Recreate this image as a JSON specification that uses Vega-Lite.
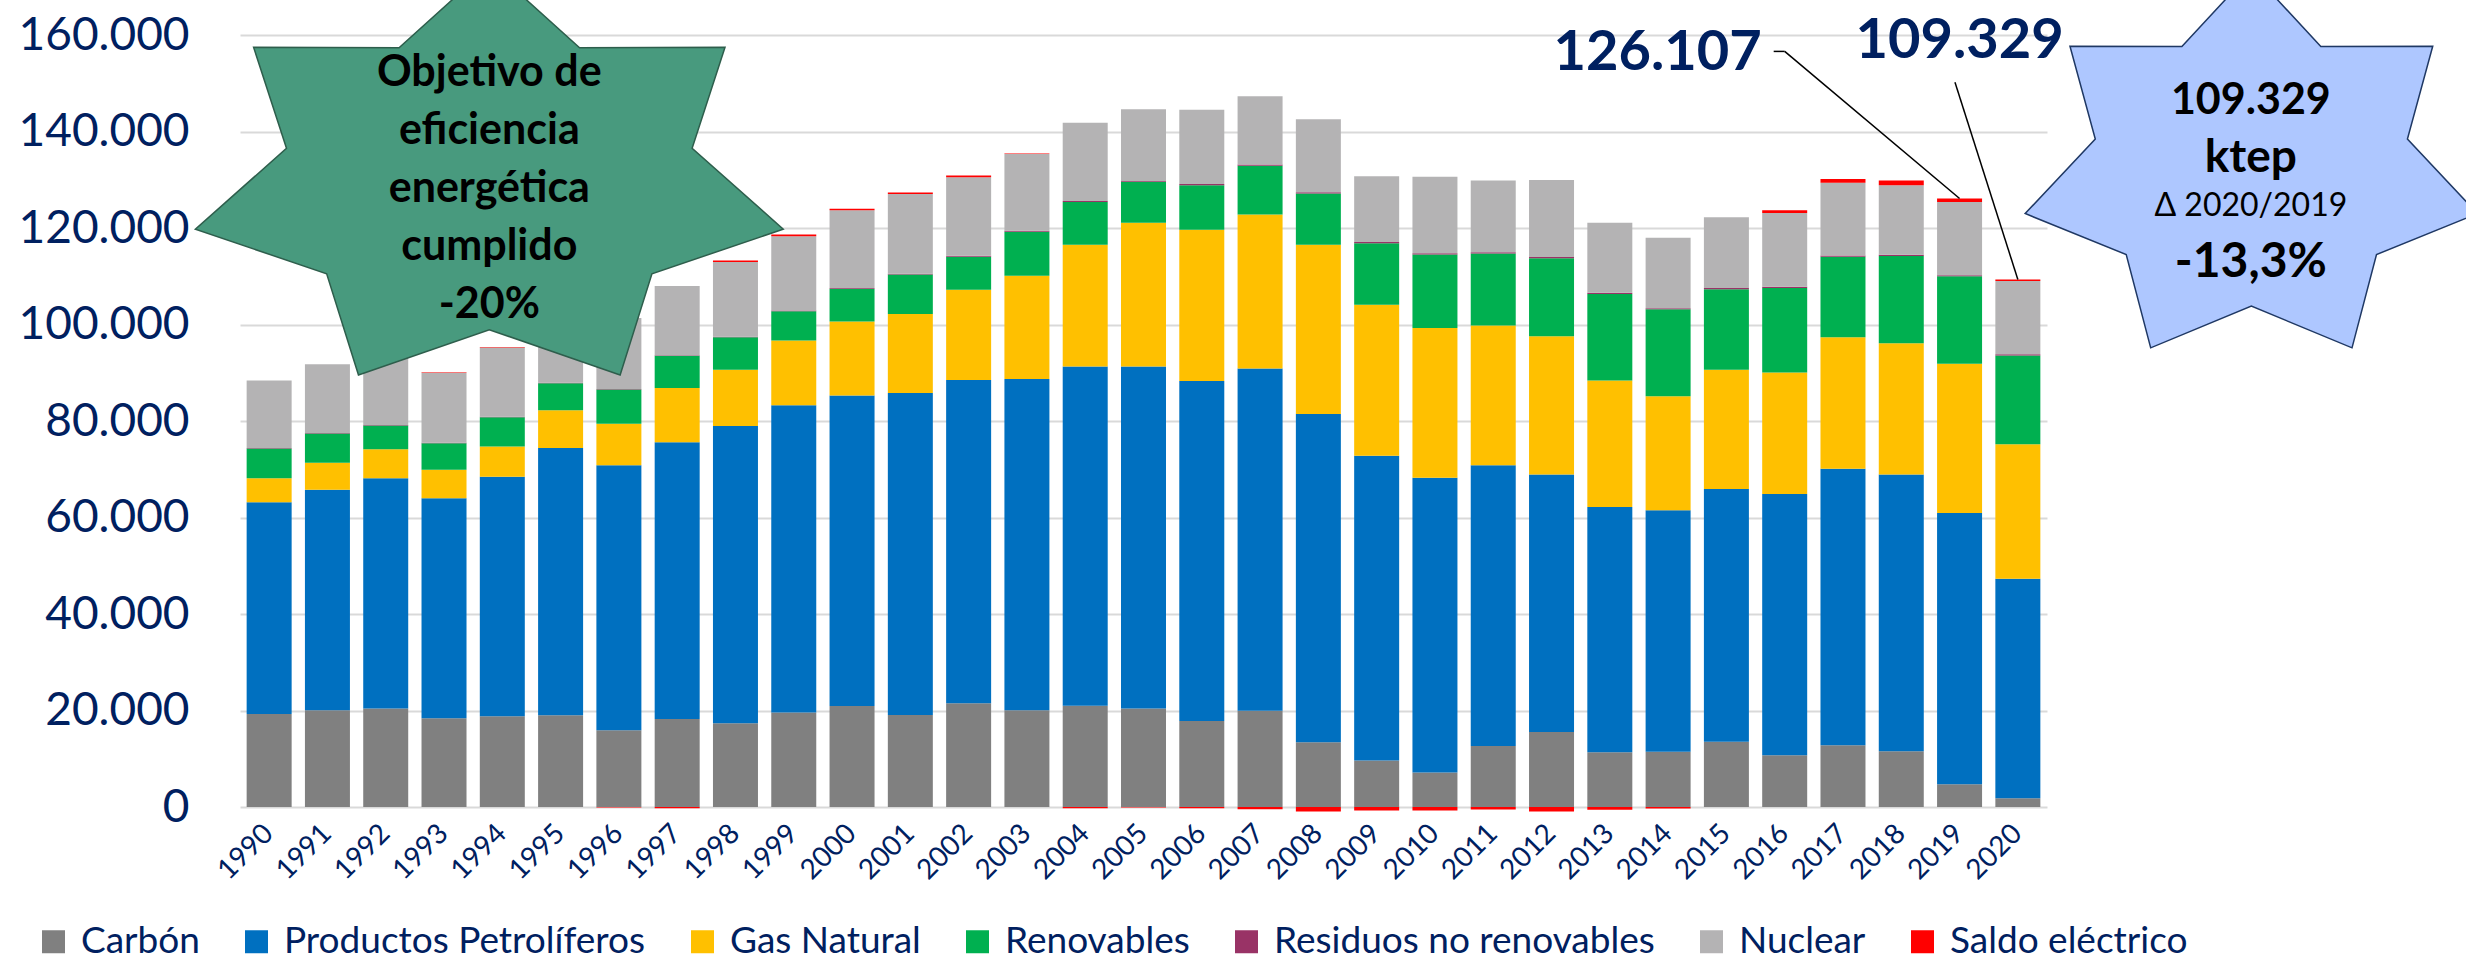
{
  "$schema": "https://vega.github.io/schema/vega-lite/v6.json",
  "width": 1807,
  "height": 772,
  "autosize": {"type": "none"},
  "padding": {"left": 240, "top": 35, "right": 419, "bottom": 154},
  "background": "white",
  "config": {
    "view": {"stroke": null},
    "font": "Lato",
    "locale": {"number": {"decimal": ",", "thousands": ".", "grouping": [3], "currency": ["", " €"]}}
  },
  "datasets": {
    "energia": [
      {"año": "1990", "Carbón": 19280, "Productos Petrolíferos": 43860, "Gas Natural": 5010, "Renovables": 6170, "Residuos no renovables": 100, "Nuclear": 13970, "Saldo eléctrico": 0},
      {"año": "1991", "Carbón": 20050, "Productos Petrolíferos": 45690, "Gas Natural": 5590, "Renovables": 6070, "Residuos no renovables": 100, "Nuclear": 14260, "Saldo eléctrico": 0},
      {"año": "1992", "Carbón": 20440, "Productos Petrolíferos": 47710, "Gas Natural": 5980, "Renovables": 4920, "Residuos no renovables": 100, "Nuclear": 14500, "Saldo eléctrico": 0},
      {"año": "1993", "Carbón": 18410, "Productos Petrolíferos": 45590, "Gas Natural": 5880, "Renovables": 5490, "Residuos no renovables": 100, "Nuclear": 14550, "Saldo eléctrico": 100},
      {"año": "1994", "Carbón": 18800, "Productos Petrolíferos": 49640, "Gas Natural": 6270, "Renovables": 6070, "Residuos no renovables": 100, "Nuclear": 14360, "Saldo eléctrico": 80},
      {"año": "1995", "Carbón": 18990, "Productos Petrolíferos": 55420, "Gas Natural": 7810, "Renovables": 5590, "Residuos no renovables": 100, "Nuclear": 14450, "Saldo eléctrico": 40},
      {"año": "1996", "Carbón": 15900, "Productos Petrolíferos": 54940, "Gas Natural": 8580, "Renovables": 7130, "Residuos no renovables": 100, "Nuclear": 14700, "Saldo eléctrico": -90},
      {"año": "1997", "Carbón": 18220, "Productos Petrolíferos": 57350, "Gas Natural": 11280, "Renovables": 6650, "Residuos no renovables": 130, "Nuclear": 14330, "Saldo eléctrico": -260},
      {"año": "1998", "Carbón": 17350, "Productos Petrolíferos": 61590, "Gas Natural": 11660, "Renovables": 6750, "Residuos no renovables": 130, "Nuclear": 15490, "Saldo eléctrico": 290},
      {"año": "1999", "Carbón": 19570, "Productos Petrolíferos": 63710, "Gas Natural": 13400, "Renovables": 6070, "Residuos no renovables": 150, "Nuclear": 15370, "Saldo eléctrico": 390},
      {"año": "2000", "Carbón": 20920, "Productos Petrolíferos": 64390, "Gas Natural": 15330, "Renovables": 6750, "Residuos no renovables": 150, "Nuclear": 16140, "Saldo eléctrico": 290},
      {"año": "2001", "Carbón": 19090, "Productos Petrolíferos": 66700, "Gas Natural": 16390, "Renovables": 8190, "Residuos no renovables": 150, "Nuclear": 16530, "Saldo eléctrico": 290},
      {"año": "2002", "Carbón": 21500, "Productos Petrolíferos": 66990, "Gas Natural": 18700, "Renovables": 6840, "Residuos no renovables": 200, "Nuclear": 16280, "Saldo eléctrico": 390},
      {"año": "2003", "Carbón": 20050, "Productos Petrolíferos": 68630, "Gas Natural": 21400, "Renovables": 9160, "Residuos no renovables": 200, "Nuclear": 15900, "Saldo eléctrico": 100},
      {"año": "2004", "Carbón": 21010, "Productos Petrolíferos": 70270, "Gas Natural": 25260, "Renovables": 8870, "Residuos no renovables": 200, "Nuclear": 16190, "Saldo eléctrico": -260},
      {"año": "2005", "Carbón": 20440, "Productos Petrolíferos": 70850, "Gas Natural": 29790, "Renovables": 8480, "Residuos no renovables": 200, "Nuclear": 14840, "Saldo eléctrico": -120},
      {"año": "2006", "Carbón": 17830, "Productos Petrolíferos": 70460, "Gas Natural": 31330, "Renovables": 9250, "Residuos no renovables": 250, "Nuclear": 15370, "Saldo eléctrico": -280},
      {"año": "2007", "Carbón": 19950, "Productos Petrolíferos": 70940, "Gas Natural": 31910, "Renovables": 10120, "Residuos no renovables": 250, "Nuclear": 14110, "Saldo eléctrico": -490},
      {"año": "2008", "Carbón": 13400, "Productos Petrolíferos": 68050, "Gas Natural": 35090, "Renovables": 10600, "Residuos no renovables": 250, "Nuclear": 15170, "Saldo eléctrico": -950},
      {"año": "2009", "Carbón": 9640, "Productos Petrolíferos": 63140, "Gas Natural": 31330, "Renovables": 12720, "Residuos no renovables": 250, "Nuclear": 13630, "Saldo eléctrico": -700},
      {"año": "2010", "Carbón": 7130, "Productos Petrolíferos": 61110, "Gas Natural": 31040, "Renovables": 15230, "Residuos no renovables": 250, "Nuclear": 15850, "Saldo eléctrico": -720},
      {"año": "2011", "Carbón": 12630, "Productos Petrolíferos": 58220, "Gas Natural": 28920, "Renovables": 14940, "Residuos no renovables": 250, "Nuclear": 14880, "Saldo eléctrico": -530},
      {"año": "2012", "Carbón": 15520, "Productos Petrolíferos": 53400, "Gas Natural": 28630, "Renovables": 16190, "Residuos no renovables": 250, "Nuclear": 15940, "Saldo eléctrico": -950},
      {"año": "2013", "Carbón": 11370, "Productos Petrolíferos": 50800, "Gas Natural": 26220, "Renovables": 17930, "Residuos no renovables": 250, "Nuclear": 14500, "Saldo eléctrico": -580},
      {"año": "2014", "Carbón": 11470, "Productos Petrolíferos": 50030, "Gas Natural": 23620, "Renovables": 18020, "Residuos no renovables": 250, "Nuclear": 14590, "Saldo eléctrico": -290},
      {"año": "2015", "Carbón": 13500, "Productos Petrolíferos": 52430, "Gas Natural": 24680, "Renovables": 16680, "Residuos no renovables": 250, "Nuclear": 14690, "Saldo eléctrico": -10},
      {"año": "2016", "Carbón": 10700, "Productos Petrolíferos": 54170, "Gas Natural": 25160, "Renovables": 17540, "Residuos no renovables": 250, "Nuclear": 15270, "Saldo eléctrico": 580},
      {"año": "2017", "Carbón": 12820, "Productos Petrolíferos": 57260, "Gas Natural": 27280, "Renovables": 16680, "Residuos no renovables": 250, "Nuclear": 15080, "Saldo eléctrico": 770},
      {"año": "2018", "Carbón": 11570, "Productos Petrolíferos": 57350, "Gas Natural": 27180, "Renovables": 18120, "Residuos no renovables": 250, "Nuclear": 14400, "Saldo eléctrico": 960},
      {"año": "2019", "Carbón": 4720, "Productos Petrolíferos": 56200, "Gas Natural": 30940, "Renovables": 18120, "Residuos no renovables": 250, "Nuclear": 15180, "Saldo eléctrico": 697},
      {"año": "2020", "Carbón": 1830, "Productos Petrolíferos": 45500, "Gas Natural": 27860, "Renovables": 18410, "Residuos no renovables": 250, "Nuclear": 15180, "Saldo eléctrico": 299}
    ]
  },
  "layer": [
    {
      "data": {"name": "energia"},
      "transform": [
        {"fold": ["Carbón", "Productos Petrolíferos", "Gas Natural", "Renovables", "Residuos no renovables", "Nuclear", "Saldo eléctrico"], "as": ["fuente", "valor"]},
        {"calculate": "indexof(['Carbón', 'Productos Petrolíferos', 'Gas Natural', 'Renovables', 'Residuos no renovables', 'Nuclear', 'Saldo eléctrico'], datum.fuente)", "as": "orden"}
      ],
      "mark": {"type": "bar"},
      "encoding": {
        "x": {
          "field": "año", "type": "ordinal", "title": null,
          "scale": {"paddingInner": 0.228, "paddingOuter": 0.114},
          "axis": {"labelAngle": -45, "labelAlign": "right", "labelBaseline": "middle", "labelFontSize": 28, "labelColor": "#002060", "labelFont": "Lato", "domain": false, "ticks": false, "labelPadding": 22}
        },
        "y": {
          "field": "valor", "type": "quantitative", "stack": "zero", "title": null,
          "scale": {"domain": [0, 160000], "nice": false},
          "axis": {"values": [0, 20000, 40000, 60000, 80000, 100000, 120000, 140000, 160000], "format": ",d", "labelFontSize": 46, "labelColor": "#002060", "labelFont": "Lato", "domain": false, "ticks": false, "labelPadding": 51, "gridColor": "#D9D9D9", "gridWidth": 2}
        },
        "color": {
          "field": "fuente", "type": "nominal",
          "scale": {
            "domain": ["Carbón", "Productos Petrolíferos", "Gas Natural", "Renovables", "Residuos no renovables", "Nuclear", "Saldo eléctrico"],
            "range": ["#808080", "#0070C0", "#FFC000", "#00B050", "#993366", "#B4B3B4", "#FF0000"]
          },
          "legend": {"orient": "none", "legendX": -205, "legendY": 888, "direction": "horizontal", "columns": 7, "title": null, "symbolType": "square", "symbolSize": 529, "symbolStrokeWidth": 0, "labelFontSize": 37, "labelFont": "Lato", "labelColor": "#002060", "labelOffset": 9, "columnPadding": 38, "labelLimit": 0}
        },
        "order": {"field": "orden", "type": "quantitative"}
      }
    },
    {
      "data": {"values": [{}]},
      "mark": {"type": "point", "shape": "M0,-0.713L-0.2994,-0.4433L-0.7818,-0.4446L-0.6727,-0.1095L-0.9749,0.1586L-0.5394,0.3067L-0.4339,0.6424L0,0.492L0.4339,0.6424L0.5394,0.3067L0.9749,0.1586L0.6727,-0.1095L0.7818,-0.4446L0.2994,-0.4433Z", "size": 363609, "filled": true, "fill": "#489A7E", "stroke": "#2E5E4C", "strokeWidth": 1.5, "opacity": 1, "xOffset": -13},
      "encoding": {"x": {"datum": "1994", "type": "ordinal"}, "y": {"datum": 129670, "type": "quantitative"}}
    },
    {
      "data": {"values": [{}]},
      "mark": {"type": "text", "text": ["Objetivo de", "eficiencia", "energética", "cumplido", "-20%"], "font": "Lato", "fontSize": 43, "fontWeight": "bold", "lineHeight": 58, "align": "center", "baseline": "middle", "color": "black", "xOffset": -13},
      "encoding": {"x": {"datum": "1994", "type": "ordinal"}, "y": {"datum": 152100, "type": "quantitative"}}
    },
    {
      "data": {"values": [{}]},
      "mark": {"type": "point", "shape": "M0,-0.853L-0.2994,-0.5303L-0.7818,-0.5318L-0.6727,-0.131L-0.9749,0.1898L-0.5394,0.367L-0.4339,0.7686L0,0.5886L0.4339,0.7686L0.5394,0.367L0.9749,0.1898L0.6727,-0.131L0.7818,-0.5318L0.2994,-0.5303Z", "size": 215296, "filled": true, "fill": "#AEC7FF", "stroke": "#1F3864", "strokeWidth": 1.5, "opacity": 1, "xOffset": 233.5},
      "encoding": {"x": {"datum": "2020", "type": "ordinal"}, "y": {"datum": 132120, "type": "quantitative"}}
    },
    {
      "data": {"values": [{}]},
      "mark": {"type": "text", "text": "109.329", "font": "Lato", "fontSize": 43, "fontWeight": "bold", "align": "center", "baseline": "middle", "color": "black", "xOffset": 233},
      "encoding": {"x": {"datum": "2020", "type": "ordinal"}, "y": {"datum": 146400, "type": "quantitative"}}
    },
    {
      "data": {"values": [{}]},
      "mark": {"type": "text", "text": "ktep", "font": "Lato", "fontSize": 46, "fontWeight": "bold", "align": "center", "baseline": "middle", "color": "black", "xOffset": 233},
      "encoding": {"x": {"datum": "2020", "type": "ordinal"}, "y": {"datum": 134500, "type": "quantitative"}}
    },
    {
      "data": {"values": [{}]},
      "mark": {"type": "text", "text": "Δ 2020/2019", "font": "Lato", "fontSize": 32, "align": "center", "baseline": "middle", "color": "black", "xOffset": 233},
      "encoding": {"x": {"datum": "2020", "type": "ordinal"}, "y": {"datum": 124500, "type": "quantitative"}}
    },
    {
      "data": {"values": [{}]},
      "mark": {"type": "text", "text": "-13,3%", "font": "Lato", "fontSize": 48, "fontWeight": "bold", "align": "center", "baseline": "middle", "color": "black", "xOffset": 233},
      "encoding": {"x": {"datum": "2020", "type": "ordinal"}, "y": {"datum": 112700, "type": "quantitative"}}
    },
    {
      "data": {"values": [{}]},
      "mark": {"type": "rule", "color": "black", "strokeWidth": 1.5},
      "encoding": {"x": {"datum": "2016", "type": "ordinal"}, "y": {"datum": 156600, "type": "quantitative"}, "x2": {"datum": "2019"}, "y2": {"datum": 126107}}
    },
    {
      "data": {"values": [{}]},
      "mark": {"type": "rule", "color": "black", "strokeWidth": 1.5, "xOffset": -11},
      "encoding": {"x": {"datum": "2016", "type": "ordinal"}, "y": {"datum": 156600, "type": "quantitative"}, "x2": {"datum": "2016"}, "y2": {"datum": 156600}}
    },
    {
      "data": {"values": [{}]},
      "mark": {"type": "rule", "color": "black", "strokeWidth": 1.5, "xOffset": -4.6},
      "encoding": {"x": {"datum": "2019", "type": "ordinal"}, "y": {"datum": 150190, "type": "quantitative"}, "x2": {"datum": "2020"}, "y2": {"datum": 109329}}
    },
    {
      "data": {"values": [{}]},
      "mark": {"type": "text", "text": "126.107", "font": "Lato", "fontSize": 56, "fontWeight": "bold", "align": "right", "baseline": "middle", "color": "#002060", "xOffset": -23},
      "encoding": {"x": {"datum": "2016", "type": "ordinal"}, "y": {"datum": 156270, "type": "quantitative"}}
    },
    {
      "data": {"values": [{}]},
      "mark": {"type": "text", "text": "109.329", "font": "Lato", "fontSize": 56, "fontWeight": "bold", "align": "center", "baseline": "middle", "color": "#002060"},
      "encoding": {"x": {"datum": "2019", "type": "ordinal"}, "y": {"datum": 158760, "type": "quantitative"}}
    }
  ]
}
